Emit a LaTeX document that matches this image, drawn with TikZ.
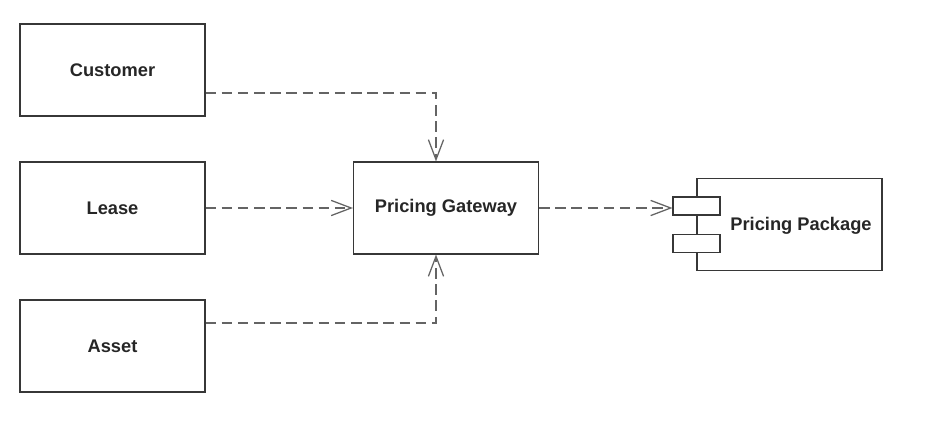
\documentclass[tikz,border=0pt]{standalone}
\usepackage{fontspec}
\setmainfont{Liberation Sans}
\usetikzlibrary{arrows.meta}
\definecolor{boxline}{RGB}{55,55,55}
\definecolor{depline}{RGB}{100,100,100}
\begin{document}
\begin{tikzpicture}[
  every node/.style={font=\fontsize{13}{15}\selectfont\bfseries, text=black!85},
  box/.style={draw=boxline, line width=0.8pt, minimum width=4.625cm, minimum height=2.3cm, inner sep=0pt},
  port/.style={draw=boxline, fill=white, line width=0.8pt, minimum width=1.175cm, minimum height=0.45cm, inner sep=0pt},
  dep/.style={draw=depline, line width=0.9pt, dash pattern=on 7.5pt off 4pt, -{Straight Barb[length=5mm, width=3.8mm, line width=0.9pt]}}]
\useasboundingbox (0,0) rectangle (23.8,10.6);
% clients
\node[box] (cust) at (2.8125, 8.85) {Customer};
\node[box] (lease) at (2.8125, 5.4) {Lease};
\node[box] (asset) at (2.8125, 1.95) {Asset};
% gateway
\node[box] (gw) at (11.15, 5.4) {Pricing Gateway};
% component
\node[box] (pkg) at (19.7375, 4.9875) {};
\node[port] (portA) at (17.4125, 5.45) {};
\node[port] (portB) at (17.4125, 4.5125) {};
\node (pkgtext) at (20.025, 4.95) {Pricing Package};

\draw[dep] ([yshift=-0.575cm]cust.east) -| ([xshift=-0.25cm]gw.north);
\draw[dep] (lease.east) -- (gw.west);
\draw[dep] ([yshift=0.575cm]asset.east) -| ([xshift=-0.25cm]gw.south);
\draw[dep] (gw.east) -- (gw.east -| portA.west);
\end{tikzpicture}
\end{document}
